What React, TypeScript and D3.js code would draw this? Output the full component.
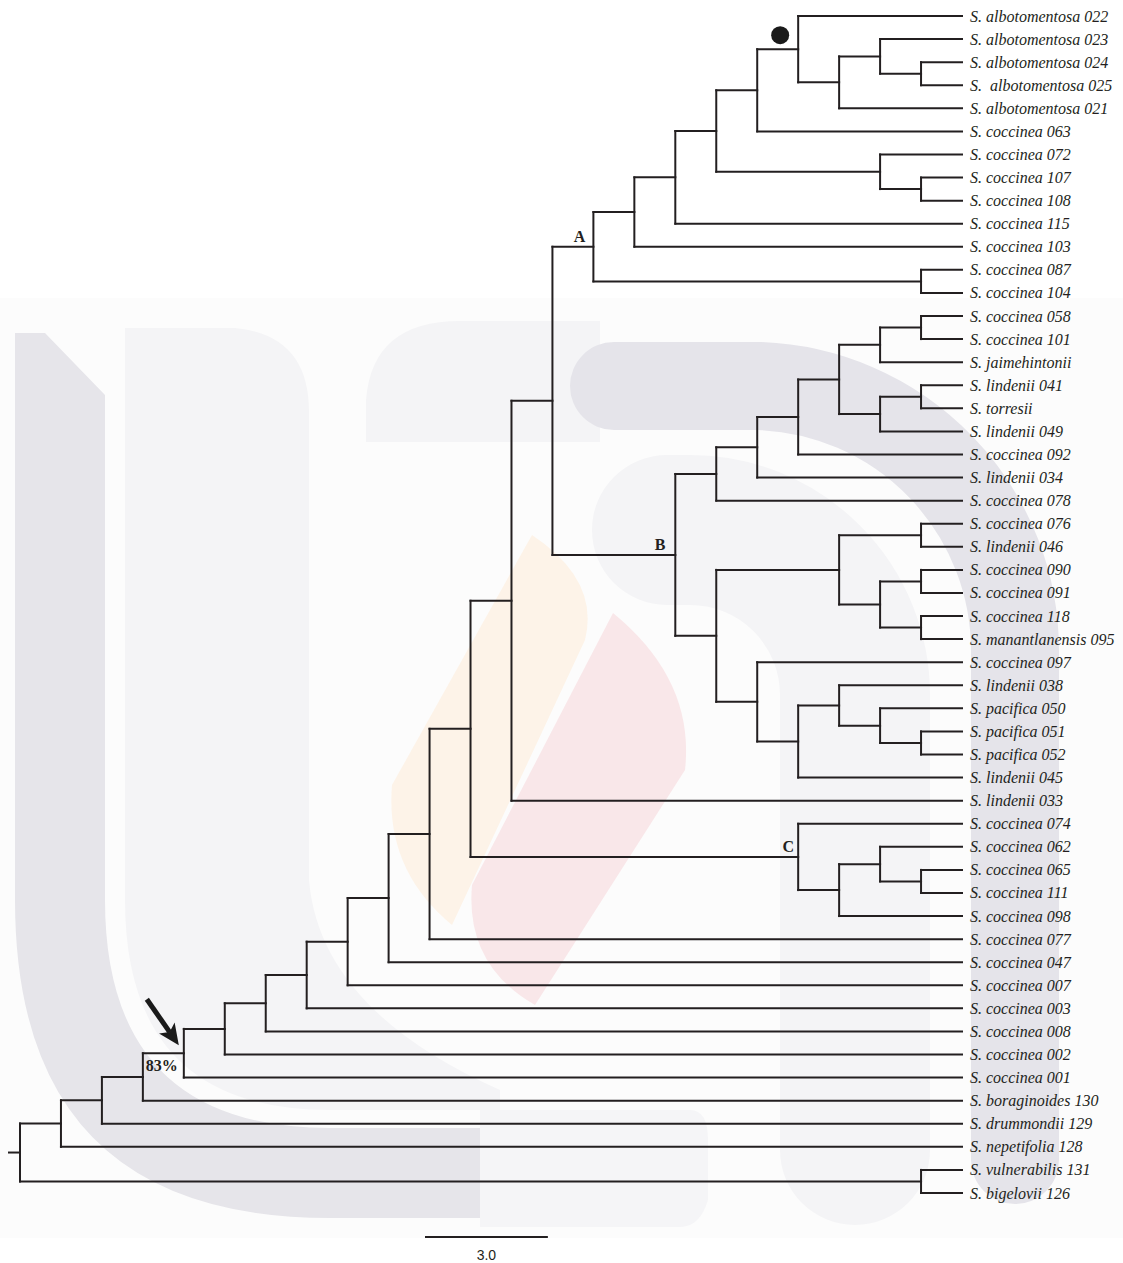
import React, { useMemo } from "react";
import * as d3 from "d3";

// ---------- DATA ----------
const taxa: string[] = [
  "S. albotomentosa 022",
  "S. albotomentosa 023",
  "S. albotomentosa 024",
  "S.  albotomentosa 025",
  "S. albotomentosa 021",
  "S. coccinea 063",
  "S. coccinea 072",
  "S. coccinea 107",
  "S. coccinea 108",
  "S. coccinea 115",
  "S. coccinea 103",
  "S. coccinea 087",
  "S. coccinea 104",
  "S. coccinea 058",
  "S. coccinea 101",
  "S. jaimehintonii",
  "S. lindenii 041",
  "S. torresii",
  "S. lindenii 049",
  "S. coccinea 092",
  "S. lindenii 034",
  "S. coccinea 078",
  "S. coccinea 076",
  "S. lindenii 046",
  "S. coccinea 090",
  "S. coccinea 091",
  "S. coccinea 118",
  "S. manantlanensis 095",
  "S. coccinea 097",
  "S. lindenii 038",
  "S. pacifica 050",
  "S. pacifica 051",
  "S. pacifica 052",
  "S. lindenii 045",
  "S. lindenii 033",
  "S. coccinea 074",
  "S. coccinea 062",
  "S. coccinea 065",
  "S. coccinea 111",
  "S. coccinea 098",
  "S. coccinea 077",
  "S. coccinea 047",
  "S. coccinea 007",
  "S. coccinea 003",
  "S. coccinea 008",
  "S. coccinea 002",
  "S. coccinea 001",
  "S. boraginoides 130",
  "S. drummondii 129",
  "S. nepetifolia 128",
  "S. vulnerabilis 131",
  "S. bigelovii 126",
];

// clades as nested arrays of taxon indices (top-to-bottom order)
const albotomentosaClade: any[] = [0, [[1, [2, 3]], 4]];
const cladeA: any[] = [[[[[albotomentosaClade, 5], [6, [7, 8]]], 9], 10], [11, 12]];
const cladeB: any[] = [
  [[[[[[13, 14], 15], [[16, 17], 18]], 19], 20], 21],
  [[[22, 23], [[24, 25], [26, 27]]], [28, [[29, [30, [31, 32]]], 33]]],
];
const cladeC: any[] = [35, [[36, [37, 38]], 39]];
const backbone: any[] = [34, cladeC, 40, 41, 42, 43, 44, 45, 46, 47, 48, 49];
const outgroup: number[] = [50, 51];

const cladeNames = ["A", "B", "C"];
const supportLabel = "83%";
const supportNodeHeight = 20;
const arrowNodeHeight = 19;
const scaleBarUnits = 3.0;

function buildTree(): any[] {
  let core: any[] = [cladeA, cladeB];
  for (const b of backbone) core = [core, b];
  return [core, outgroup];
}

const INK = "#231f20";

export default function App() {
  const W = 1123;
  const H = 1263;

  const layout = useMemo(() => {
    const root: any = d3.hierarchy<any>(buildTree(), (d) => (Array.isArray(d) ? d : null));
    const x = d3.scaleLinear().domain([root.height, 0]).range([20, 962]);
    const y = d3.scaleLinear().domain([0, taxa.length - 1]).range([16, 1193]);
    root.eachAfter((n: any) => {
      if (n.children) {
        n.py = (n.children[0].py + n.children[n.children.length - 1].py) / 2;
      } else {
        n.py = y(n.data as number);
      }
      n.px = x(n.height);
    });
    return { root, x, y };
  }, []);

  const { root, x } = layout;
  const nodes: any[] = root.descendants();

  const segs: { x1: number; y1: number; x2: number; y2: number }[] = [];
  nodes.forEach((n) => {
    if (n.children) {
      segs.push({ x1: n.px, y1: n.children[0].py, x2: n.px, y2: n.children[n.children.length - 1].py });
    }
    if (n.parent) {
      segs.push({ x1: n.parent.px, y1: n.py, x2: n.px, y2: n.py });
    }
  });

  const findData = (d: any) => nodes.find((n) => n.data === d);
  const nodeA = findData(cladeA);
  const nodeB = findData(cladeB);
  const nodeC = findData(cladeC);
  const nodeAlbo = findData(albotomentosaClade);
  const supportNode = nodes.find((n) => n.height === supportNodeHeight);
  const arrowNode = nodes.find((n) => n.height === arrowNodeHeight);

  const cladeLabelPos = [
    { node: nodeA, dx: -8 },
    { node: nodeB, dx: -10 },
    { node: nodeC, dx: -4 },
  ];

  // arrow geometry
  const tip = { x: arrowNode.px - 5, y: arrowNode.py - 8 };
  const tail = { x: arrowNode.px - 37, y: arrowNode.py - 54 };
  const len = Math.hypot(tip.x - tail.x, tip.y - tail.y);
  const ux = (tip.x - tail.x) / len;
  const uy = (tip.y - tail.y) / len;
  const nx = -uy;
  const ny = ux;
  const headL = 21;
  const headW = 9.5;
  const base = { x: tip.x - headL * ux, y: tip.y - headL * uy };
  const notch = { x: tip.x - (headL - 5) * ux, y: tip.y - (headL - 5) * uy };
  const head = `M${tip.x},${tip.y} L${base.x + headW * nx},${base.y + headW * ny} L${notch.x},${notch.y} L${base.x - headW * nx},${base.y - headW * ny} Z`;

  const barX0 = 425;
  const barLen = x(0) - x(scaleBarUnits);

  return (
    <svg
      width={W}
      height={H}
      viewBox={`0 0 ${W} ${H}`}
      style={{ position: "absolute", left: 0, top: 0, background: "#ffffff" }}
    >
      {/* faint watermark */}
      <g>
        <rect x={0} y={298} width={W} height={940} fill="#fcfcfc" />
        <path d="M125 328 H235 Q309 335 309 412 V880 Q320 1010 500 1090 V1110 H330 Q125 1110 125 900 Z" fill="#f4f4f6" />
        <path d="M15 333 H45 L105 395 V900 Q105 1128 330 1128 H500 V1218 H330 Q15 1218 15 900 Z" fill="#e6e5ea" />
        <path d="M480 1110 H690 Q708 1110 708 1140 V1200 Q700 1227 680 1227 H480 Z" fill="#f5f5f7" />
        <path d="M366 442 V400 Q372 321 460 321 H600 V442 Z" fill="#f4f4f6" />
        <path d="M667 530 H690 A165 165 0 0 1 855 695 V1150" fill="none" stroke="#f4f4f6" strokeWidth={150} strokeLinecap="round" />
        <path d="M614 386 H760 A265 265 0 0 1 1015 651 V1160" fill="none" stroke="#e5e4ea" strokeWidth={88} strokeLinecap="round" />
        <path d="M532 535 Q600 580 585 640 L452 925 Q385 870 392 785 Z" fill="#fdf3e8" />
        <path d="M613 613 Q695 680 685 770 L535 1005 Q465 965 472 885 Z" fill="#f9e7e9" />
      </g>

      {/* tree branches */}
      <g stroke={INK} strokeWidth={2} strokeLinecap="square">
        {segs.map((s, i) => (
          <line key={i} x1={s.x1} y1={s.y1} x2={s.x2} y2={s.y2} />
        ))}
        <line x1={9} y1={root.py} x2={root.px} y2={root.py} />
      </g>

      {/* leaf labels */}
      <g fontFamily="'Liberation Serif', 'Times New Roman', serif" fontStyle="italic" fontSize={16} fill={INK}>
        {nodes
          .filter((n) => !n.children)
          .map((n) => (
            <text key={n.data} x={970} y={n.py + 5.5} style={{ whiteSpace: "pre" }}>
              {taxa[n.data]}
            </text>
          ))}
      </g>

      {/* clade labels */}
      <g fontFamily="'Liberation Serif', 'Times New Roman', serif" fontWeight="bold" fontSize={16} fill={INK}>
        {cladeLabelPos.map((c, i) => (
          <text key={cladeNames[i]} x={c.node.px + c.dx} y={c.node.py - 5} textAnchor="end">
            {cladeNames[i]}
          </text>
        ))}
        <text x={supportNode.px + 3} y={supportNode.py - 6}>
          {supportLabel}
        </text>
      </g>

      {/* dot marker */}
      <circle cx={nodeAlbo.px - 18} cy={nodeAlbo.py - 14} r={9} fill="#1a1a1a" />

      {/* arrow */}
      <line x1={tail.x} y1={tail.y} x2={notch.x} y2={notch.y} stroke="#1a1a1a" strokeWidth={5} />
      <path d={head} fill="#1a1a1a" />

      {/* scale bar */}
      <line x1={barX0} y1={1237} x2={barX0 + barLen} y2={1237} stroke={INK} strokeWidth={2} />
      <text
        x={barX0 + barLen / 2}
        y={1260}
        textAnchor="middle"
        fontFamily="'Liberation Sans', Arial, sans-serif"
        fontSize={14}
        fill={INK}
      >
        {scaleBarUnits.toFixed(1)}
      </text>
    </svg>
  );
}
